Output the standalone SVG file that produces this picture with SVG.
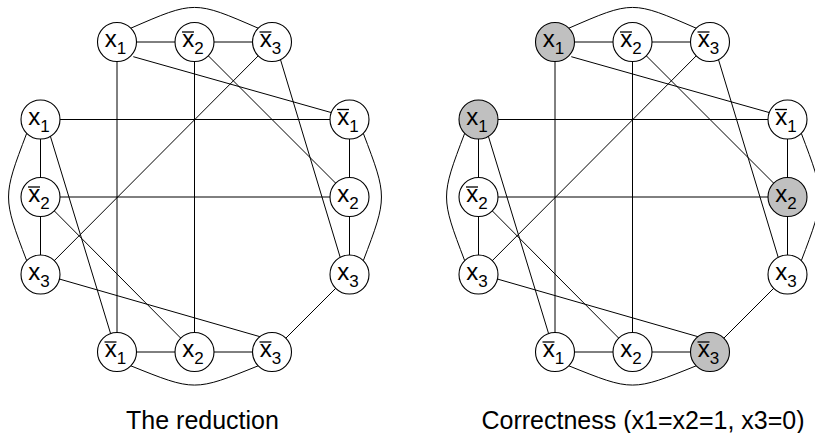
<svg xmlns="http://www.w3.org/2000/svg" width="815" height="433" viewBox="0 0 815 433">
<style>
.e{stroke:#000;stroke-width:1;fill:none}
.n circle{fill:#fff;stroke:#000;stroke-width:1.1}
.n.on circle{fill:#c0c0c0}
.n text{font-family:"Liberation Sans",Arial,sans-serif;font-size:24px;text-anchor:middle;fill:#000}
.n line{stroke:#000;stroke-width:1.3}
.s{font-size:17px}
.cap{font-family:"Liberation Sans",Arial,sans-serif;font-size:25px;text-anchor:middle;fill:#000}
</style>
<rect width="815" height="433" fill="#fff"/>

<!-- Left diagram: The reduction -->
<g id="left">
<g id="a-edges">
<path class="e" d="M130.8 28.2C194.5 0.5 194.5 0.5 258.2 28.2"/>
<path class="e" d="M130.8 365.8C194.5 391.5 194.5 391.5 258.2 365.8"/>
<path class="e" d="M26.7 133.3C2.5 197 2.5 197 26.7 260.7"/>
<path class="e" d="M363.3 133.3C387.5 197 387.5 197 363.3 260.7"/>
<line class="e" x1="117" y1="42" x2="272" y2="42"/>
<line class="e" x1="117" y1="352" x2="272" y2="352"/>
<line class="e" x1="40.5" y1="119.5" x2="40.5" y2="274.5"/>
<line class="e" x1="349.5" y1="119.5" x2="349.5" y2="274.5"/>
<line class="e" x1="133.3" y1="56.7" x2="331.7" y2="112.7"/>
<line class="e" x1="117" y1="42" x2="117" y2="352"/>
<line class="e" x1="194.5" y1="42" x2="194.5" y2="352"/>
<line class="e" x1="194.5" y1="42" x2="349.5" y2="197"/>
<line class="e" x1="272" y1="42" x2="40.5" y2="274.5"/>
<line class="e" x1="280" y1="58" x2="341" y2="260"/>
<line class="e" x1="40.5" y1="119.5" x2="349.5" y2="119.5"/>
<line class="e" x1="40.5" y1="197" x2="349.5" y2="197"/>
<line class="e" x1="49.7" y1="134" x2="110.6" y2="333.6"/>
<line class="e" x1="40.5" y1="197" x2="194.5" y2="352"/>
<line class="e" x1="59.3" y1="279" x2="260" y2="336.7"/>
<line class="e" x1="349.5" y1="274.5" x2="272" y2="352"/>
</g>
<g id="a-t1" class="n"><circle cx="117" cy="42" r="19.5"/><text x="115.5" y="47">x<tspan class="s" dy="7">1</tspan></text></g>
<g id="a-t2" class="n"><circle cx="194.5" cy="42" r="19.5"/><line x1="182" y1="32" x2="194" y2="32"/><text x="193" y="47">x<tspan class="s" dy="7">2</tspan></text></g>
<g id="a-t3" class="n"><circle cx="272" cy="42" r="19.5"/><line x1="259.5" y1="32" x2="271.5" y2="32"/><text x="270.5" y="47">x<tspan class="s" dy="7">3</tspan></text></g>
<g id="a-l1" class="n"><circle cx="40.5" cy="119.5" r="19.5"/><text x="39" y="124.5">x<tspan class="s" dy="7">1</tspan></text></g>
<g id="a-l2" class="n"><circle cx="40.5" cy="197" r="19.5"/><line x1="28" y1="187" x2="40" y2="187"/><text x="39" y="202">x<tspan class="s" dy="7">2</tspan></text></g>
<g id="a-l3" class="n"><circle cx="40.5" cy="274.5" r="19.5"/><text x="39" y="279.5">x<tspan class="s" dy="7">3</tspan></text></g>
<g id="a-r1" class="n"><circle cx="349.5" cy="119.5" r="19.5"/><line x1="337" y1="109.5" x2="349" y2="109.5"/><text x="348" y="124.5">x<tspan class="s" dy="7">1</tspan></text></g>
<g id="a-r2" class="n"><circle cx="349.5" cy="197" r="19.5"/><text x="348" y="202">x<tspan class="s" dy="7">2</tspan></text></g>
<g id="a-r3" class="n"><circle cx="349.5" cy="274.5" r="19.5"/><text x="348" y="279.5">x<tspan class="s" dy="7">3</tspan></text></g>
<g id="a-b1" class="n"><circle cx="117" cy="352" r="19.5"/><line x1="104.5" y1="342" x2="116.5" y2="342"/><text x="115.5" y="357">x<tspan class="s" dy="7">1</tspan></text></g>
<g id="a-b2" class="n"><circle cx="194.5" cy="352" r="19.5"/><text x="193" y="357">x<tspan class="s" dy="7">2</tspan></text></g>
<g id="a-b3" class="n"><circle cx="272" cy="352" r="19.5"/><line x1="259.5" y1="342" x2="271.5" y2="342"/><text x="270.5" y="357">x<tspan class="s" dy="7">3</tspan></text></g>
<text id="a-caption" class="cap" x="202.5" y="428.5">The reduction</text>
</g>

<!-- Right diagram: Correctness -->
<g id="right" transform="translate(438,0)">
<g id="b-edges">
<path class="e" d="M130.8 28.2C194.5 0.5 194.5 0.5 258.2 28.2"/>
<path class="e" d="M130.8 365.8C194.5 391.5 194.5 391.5 258.2 365.8"/>
<path class="e" d="M26.7 133.3C2.5 197 2.5 197 26.7 260.7"/>
<path class="e" d="M363.3 133.3C387.5 197 387.5 197 363.3 260.7"/>
<line class="e" x1="117" y1="42" x2="272" y2="42"/>
<line class="e" x1="117" y1="352" x2="272" y2="352"/>
<line class="e" x1="40.5" y1="119.5" x2="40.5" y2="274.5"/>
<line class="e" x1="349.5" y1="119.5" x2="349.5" y2="274.5"/>
<line class="e" x1="133.3" y1="56.7" x2="331.7" y2="112.7"/>
<line class="e" x1="117" y1="42" x2="117" y2="352"/>
<line class="e" x1="194.5" y1="42" x2="194.5" y2="352"/>
<line class="e" x1="194.5" y1="42" x2="349.5" y2="197"/>
<line class="e" x1="272" y1="42" x2="40.5" y2="274.5"/>
<line class="e" x1="280" y1="58" x2="341" y2="260"/>
<line class="e" x1="40.5" y1="119.5" x2="349.5" y2="119.5"/>
<line class="e" x1="40.5" y1="197" x2="349.5" y2="197"/>
<line class="e" x1="49.7" y1="134" x2="110.6" y2="333.6"/>
<line class="e" x1="40.5" y1="197" x2="194.5" y2="352"/>
<line class="e" x1="59.3" y1="279" x2="260" y2="336.7"/>
<line class="e" x1="349.5" y1="274.5" x2="272" y2="352"/>
</g>
<g id="b-t1" class="n on"><circle cx="117" cy="42" r="19.5"/><text x="115.5" y="47">x<tspan class="s" dy="7">1</tspan></text></g>
<g id="b-t2" class="n"><circle cx="194.5" cy="42" r="19.5"/><line x1="182" y1="32" x2="194" y2="32"/><text x="193" y="47">x<tspan class="s" dy="7">2</tspan></text></g>
<g id="b-t3" class="n"><circle cx="272" cy="42" r="19.5"/><line x1="259.5" y1="32" x2="271.5" y2="32"/><text x="270.5" y="47">x<tspan class="s" dy="7">3</tspan></text></g>
<g id="b-l1" class="n on"><circle cx="40.5" cy="119.5" r="19.5"/><text x="39" y="124.5">x<tspan class="s" dy="7">1</tspan></text></g>
<g id="b-l2" class="n"><circle cx="40.5" cy="197" r="19.5"/><line x1="28" y1="187" x2="40" y2="187"/><text x="39" y="202">x<tspan class="s" dy="7">2</tspan></text></g>
<g id="b-l3" class="n"><circle cx="40.5" cy="274.5" r="19.5"/><text x="39" y="279.5">x<tspan class="s" dy="7">3</tspan></text></g>
<g id="b-r1" class="n"><circle cx="349.5" cy="119.5" r="19.5"/><line x1="337" y1="109.5" x2="349" y2="109.5"/><text x="348" y="124.5">x<tspan class="s" dy="7">1</tspan></text></g>
<g id="b-r2" class="n on"><circle cx="349.5" cy="197" r="19.5"/><text x="348" y="202">x<tspan class="s" dy="7">2</tspan></text></g>
<g id="b-r3" class="n"><circle cx="349.5" cy="274.5" r="19.5"/><text x="348" y="279.5">x<tspan class="s" dy="7">3</tspan></text></g>
<g id="b-b1" class="n"><circle cx="117" cy="352" r="19.5"/><line x1="104.5" y1="342" x2="116.5" y2="342"/><text x="115.5" y="357">x<tspan class="s" dy="7">1</tspan></text></g>
<g id="b-b2" class="n"><circle cx="194.5" cy="352" r="19.5"/><text x="193" y="357">x<tspan class="s" dy="7">2</tspan></text></g>
<g id="b-b3" class="n on"><circle cx="272" cy="352" r="19.5"/><line x1="259.5" y1="342" x2="271.5" y2="342"/><text x="270.5" y="357">x<tspan class="s" dy="7">3</tspan></text></g>
<text id="b-caption" class="cap" x="205" y="428.5">Correctness (x1=x2=1, x3=0)</text>
</g>
</svg>
